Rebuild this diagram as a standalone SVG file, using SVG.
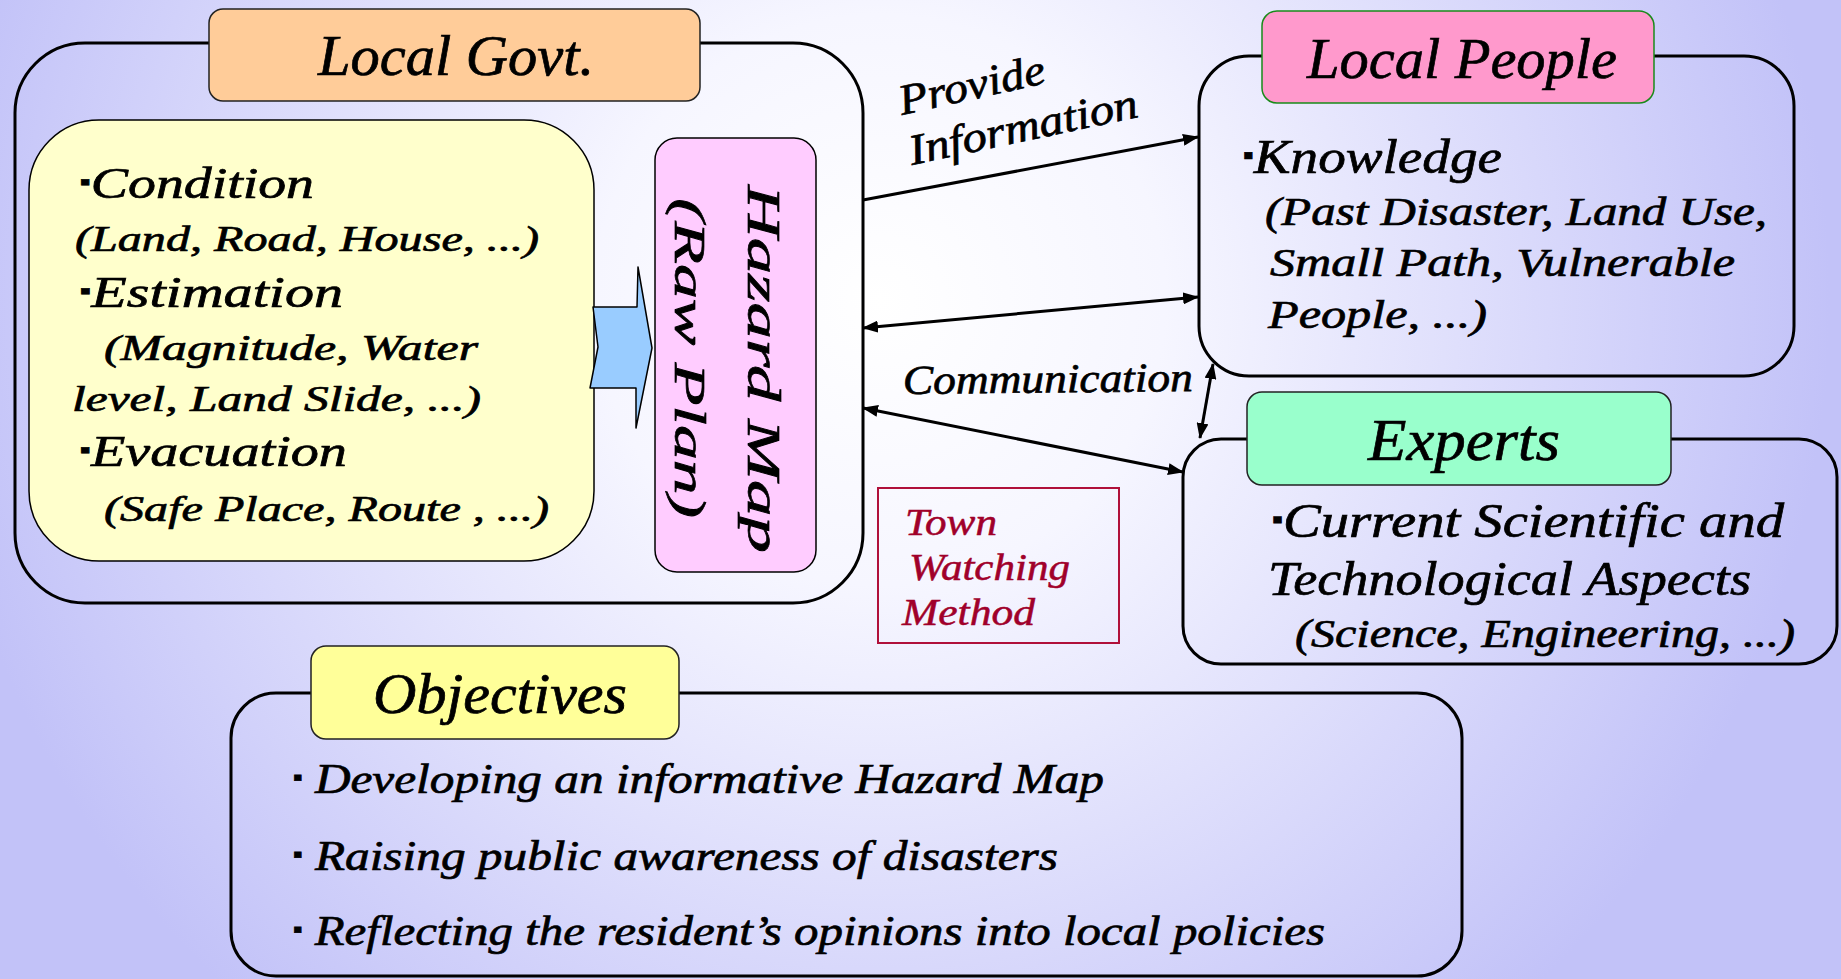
<svg xmlns="http://www.w3.org/2000/svg" width="1841" height="979" viewBox="0 0 1841 979">
<defs>
<radialGradient id="bg" gradientUnits="userSpaceOnUse" cx="880" cy="300" r="950">
<stop offset="0" stop-color="#ffffff"/>
<stop offset="0.3" stop-color="#f6f6ff"/>
<stop offset="1" stop-color="#c2c2f8"/>
</radialGradient>
<marker id="ah" viewBox="0 0 16 12" refX="15" refY="6" markerWidth="16" markerHeight="12" markerUnits="userSpaceOnUse" orient="auto-start-reverse">
<path d="M0,0 L16,6 L0,12 z" fill="#000"/>
</marker>
<style>
text{font-family:"Liberation Serif","DejaVu Serif",serif;font-style:italic;fill:#000;stroke:#000;stroke-width:0.7}
.b{font-size:55%;font-style:normal}
.outer{fill:none;stroke:#000;stroke-width:3}
.lbl{stroke:#222;stroke-width:1.5}
.conn{stroke:#000;stroke-width:3;fill:none}
text.red{fill:#a0002a;stroke:#a0002a;stroke-width:0.5}
</style>
</defs>
<rect x="0" y="0" width="1841" height="979" fill="url(#bg)"/>

<g id="local-govt">
<rect class="outer" x="15" y="43" width="848" height="560" rx="70"/>
<rect class="lbl" x="209" y="9" width="491" height="92" rx="14" fill="#ffcc99"/>
<text x="318" y="75" font-size="56" textLength="276" lengthAdjust="spacingAndGlyphs">Local Govt.</text>
</g>

<g id="conditions">
<rect x="29" y="120" width="565" height="441" rx="70" fill="#ffffcc" stroke="#000" stroke-width="1.5"/>
<text x="80" y="198" font-size="44" textLength="234" lengthAdjust="spacingAndGlyphs"><tspan class="b" dy="-8">▪</tspan><tspan dy="8">Condition</tspan></text>
<text x="75" y="251" font-size="36" textLength="464" lengthAdjust="spacingAndGlyphs">(Land, Road, House, ...)</text>
<text x="80" y="307" font-size="44" textLength="263" lengthAdjust="spacingAndGlyphs"><tspan class="b" dy="-8">▪</tspan><tspan dy="8">Estimation</tspan></text>
<text x="104" y="360" font-size="36" textLength="374" lengthAdjust="spacingAndGlyphs">(Magnitude, Water</text>
<text x="72" y="411" font-size="36" textLength="409" lengthAdjust="spacingAndGlyphs">level, Land Slide, ...)</text>
<text x="80" y="466" font-size="44" textLength="267" lengthAdjust="spacingAndGlyphs"><tspan class="b" dy="-8">▪</tspan><tspan dy="8">Evacuation</tspan></text>
<text x="104" y="521" font-size="36" textLength="445" lengthAdjust="spacingAndGlyphs">(Safe Place, Route , ...)</text>
</g>

<g id="block-arrow">
<polygon points="593,307 598,347 590,388 636,388 636,428 652,348 638,267 637,307" fill="#99ccff" stroke="#000" stroke-width="1.5" stroke-linejoin="round"/>
</g>

<g id="hazard-map">
<rect x="655" y="138" width="161" height="434" rx="22" fill="#ffccff" stroke="#000" stroke-width="1.5"/>
<text transform="translate(748,185) rotate(90)" font-size="46" textLength="368" lengthAdjust="spacingAndGlyphs">Hazard Map</text>
<text transform="translate(675,198) rotate(90)" font-size="44" textLength="320" lengthAdjust="spacingAndGlyphs">(Raw Plan)</text>
</g>

<g id="local-people">
<rect class="outer" x="1199" y="56" width="595" height="320" rx="50"/>
<rect x="1262" y="11" width="392" height="92" rx="15" fill="#ff99cc" stroke="#1a8a1a" stroke-width="1.5"/>
<text x="1307" y="78" font-size="58" textLength="310" lengthAdjust="spacingAndGlyphs">Local People</text>
<text x="1243" y="173" font-size="49" textLength="259" lengthAdjust="spacingAndGlyphs"><tspan class="b" dy="-9">▪</tspan><tspan dy="9">Knowledge</tspan></text>
<text x="1265" y="225" font-size="41" textLength="502" lengthAdjust="spacingAndGlyphs">(Past Disaster, Land Use,</text>
<text x="1270" y="276" font-size="41" textLength="465" lengthAdjust="spacingAndGlyphs">Small Path, Vulnerable</text>
<text x="1268" y="328" font-size="41" textLength="219" lengthAdjust="spacingAndGlyphs">People,  ...)</text>
</g>

<g id="experts">
<rect class="outer" x="1183" y="439" width="654" height="225" rx="38"/>
<rect class="lbl" x="1247" y="392" width="424" height="93" rx="15" fill="#99ffcc"/>
<text x="1368" y="460" font-size="60" textLength="192" lengthAdjust="spacingAndGlyphs">Experts</text>
<text x="1272" y="537" font-size="48" textLength="512" lengthAdjust="spacingAndGlyphs"><tspan class="b" dy="-9">▪</tspan><tspan dy="9">Current Scientific and</tspan></text>
<text x="1268" y="595" font-size="48" textLength="483" lengthAdjust="spacingAndGlyphs">Technological Aspects</text>
<text x="1295" y="647" font-size="40" textLength="500" lengthAdjust="spacingAndGlyphs">(Science, Engineering, ...)</text>
</g>

<g id="town-watching">
<rect x="878" y="488" width="241" height="155" fill="none" stroke="#b0103a" stroke-width="2"/>
<text class="red" x="905" y="535" font-size="37" textLength="92" lengthAdjust="spacingAndGlyphs">Town</text>
<text class="red" x="909" y="580" font-size="37" textLength="161" lengthAdjust="spacingAndGlyphs">Watching</text>
<text class="red" x="902" y="625" font-size="37" textLength="133" lengthAdjust="spacingAndGlyphs">Method</text>
</g>

<g id="objectives">
<rect class="outer" x="231" y="693" width="1231" height="283" rx="45"/>
<rect class="lbl" x="311" y="646" width="368" height="93" rx="15" fill="#ffff99"/>
<text x="373" y="713" font-size="56" textLength="254" lengthAdjust="spacingAndGlyphs">Objectives</text>
<text x="293" y="793" font-size="42" textLength="811" lengthAdjust="spacingAndGlyphs"><tspan class="b" dy="-8">▪</tspan><tspan dy="8"> Developing an informative Hazard Map</tspan></text>
<text x="293" y="870" font-size="42" textLength="765" lengthAdjust="spacingAndGlyphs"><tspan class="b" dy="-8">▪</tspan><tspan dy="8"> Raising public awareness of disasters</tspan></text>
<text x="293" y="945" font-size="42" textLength="1032" lengthAdjust="spacingAndGlyphs"><tspan class="b" dy="-8">▪</tspan><tspan dy="8"> Reflecting the resident’s opinions into local policies</tspan></text>
</g>

<g id="connectors">
<line class="conn" x1="863" y1="200" x2="1198" y2="137" marker-end="url(#ah)"/>
<line class="conn" x1="863" y1="328" x2="1198" y2="297" marker-start="url(#ah)" marker-end="url(#ah)"/>
<line class="conn" x1="863" y1="408" x2="1183" y2="472" marker-start="url(#ah)" marker-end="url(#ah)"/>
<line class="conn" x1="1213" y1="364" x2="1200" y2="438" marker-start="url(#ah)" marker-end="url(#ah)"/>
<text transform="translate(902,115) rotate(-12.5)" font-size="43" stroke-width="0.3" textLength="149" lengthAdjust="spacingAndGlyphs">Provide</text>
<text transform="translate(912,165) rotate(-12)" font-size="43" stroke-width="0.3" textLength="233" lengthAdjust="spacingAndGlyphs">Information</text>
<text transform="translate(903,394) rotate(-0.6)" font-size="41" textLength="290" lengthAdjust="spacingAndGlyphs">Communication</text>
</g>
</svg>
